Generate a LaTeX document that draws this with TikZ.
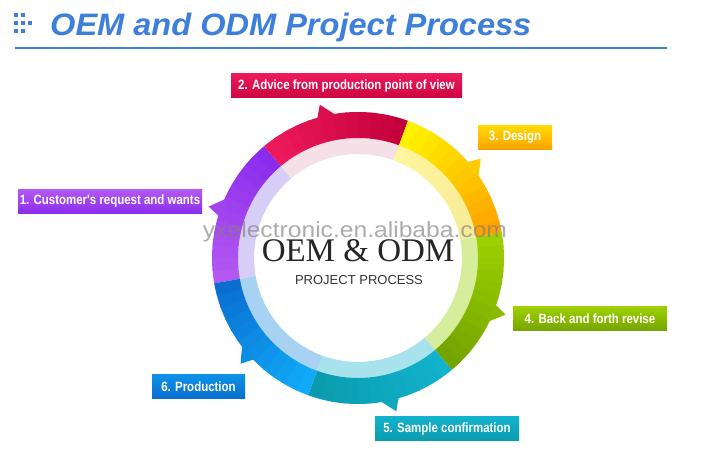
\documentclass[tikz,border=0pt]{standalone}
\usepackage{fontspec}
\setmainfont{Liberation Sans}
\newfontfamily\lblfont[FakeStretch=0.85]{Liberation Sans}
\newfontfamily\titlefont[FakeStretch=1.05]{Liberation Sans}
\newfontfamily\wmfont[FakeStretch=1.12]{Liberation Sans}
\newfontfamily\oemfont{Liberation Serif}
\definecolor{titleblue}{HTML}{3D7FDB}
\definecolor{purA}{HTML}{B458F2}
\definecolor{purB}{HTML}{8A2CEC}
\definecolor{redA}{HTML}{EC1A5C}
\definecolor{redB}{HTML}{C4003A}
\definecolor{yelA}{HTML}{FFF200}
\definecolor{yelB}{HTML}{FFA200}
\definecolor{grnA}{HTML}{9CD000}
\definecolor{grnB}{HTML}{74A400}
\definecolor{tealA}{HTML}{12B2CC}
\definecolor{tealB}{HTML}{0A9CAE}
\definecolor{bluA}{HTML}{10AAF8}
\definecolor{bluB}{HTML}{0A6ED0}
\definecolor{purP}{HTML}{D6CEF6}
\definecolor{redP}{HTML}{F6E0E8}
\definecolor{yelP}{HTML}{FFF59C}
\definecolor{yelQ}{HTML}{F6EC98}
\definecolor{grnP}{HTML}{D6EE9C}
\definecolor{tealP}{HTML}{A8E2EC}
\definecolor{bluP}{HTML}{A8D2F4}
\newcommand\ringseg[6]{%
  \foreach \i in {0,...,11}{%
    \pgfmathsetmacro\sa{#1+(#2-#1)*\i/12}%
    \pgfmathsetmacro\ov{\i<11 ? 0.5 : 0}%
    \pgfmathsetmacro\ea{#1+(#2-#1)*(\i+1)/12-\ov}%
    \pgfmathtruncatemacro\p{100*\i/11}%
    \colorlet{palec}{#6!\p!#5}%
    \colorlet{segc}{#4!\p!#3}%
    \fill[palec] (\sa:121) arc[start angle=\sa,end angle=\ea,radius=121] -- (\ea:104) arc[start angle=\ea,end angle=\sa,radius=104] -- cycle;
    \fill[segc] (\sa:146) arc[start angle=\sa,end angle=\ea,radius=146] -- (\ea:120) arc[start angle=\ea,end angle=\sa,radius=120] -- cycle;
  }%
}
\newcommand\ringtab[2]{%
  \fill[#2] (#1-5.5:144) -- (#1:158) -- (#1+2.5:144) -- cycle;
}
\tikzset{
  lbl/.style={minimum height=24pt, inner sep=0pt, text=white,
    font=\lblfont\fontsize{13.5}{14}\selectfont\bfseries},
  dotsq/.style={fill=titleblue}
}
\begin{document}
\begin{tikzpicture}[x=1pt,y=1pt]
\useasboundingbox (0,0) rectangle (711,470);
\fill[white] (0,0) rectangle (711,470);
% title
\foreach \yy in {15,23,31}{
  \fill[dotsq] (14,470-\yy-2) rectangle ++(4,4);
  \fill[dotsq] (21,470-\yy-2) rectangle ++(4,4);
}
\fill[dotsq] (28,470-23-2) rectangle ++(3.5,4);
\node[anchor=base west, inner sep=0pt, text=titleblue,
  font=\titlefont\fontsize{31}{31}\selectfont\bfseries\itshape] (title) at (50,470-36) {OEM and ODM Project Process};
\coordinate (ruleL) at (15,470-48);
\coordinate (ruleR) at (667,470-48);
\draw[titleblue, line width=2pt] (ruleL) -- (ruleR);
% ring
\begin{scope}[shift={(358,212)}]
  \ringseg{190}{130}{purA}{purB}{purP}{purP}
  \ringseg{130}{70}{redA}{redB}{redP}{redP}
  \ringseg{70}{10}{yelA}{yelB}{yelP}{yelQ}
  \ringseg{10}{-50}{grnA}{grnB}{grnP}{grnP}
  \ringseg{-50}{-110}{tealA}{tealB}{tealP}{tealP}
  \ringseg{-110}{-170}{bluA}{bluB}{bluP}{bluP}
  \ringtab{161}{purB!45!purA}
  \ringtab{104}{redB!45!redA}
  \ringtab{39}{yelB!50!yelA}
  \ringtab{-21}{grnB!50!grnA}
  \ringtab{-76}{tealB!50!tealA}
  \ringtab{-138}{bluB!50!bluA}
\end{scope}
% centre texts
\node[font=\wmfont\fontsize{22}{22}\selectfont, text=gray, opacity=0.65] (wm) at (355,470-232) {yxelectronic.en.alibaba.com};
\node[font=\oemfont\fontsize{33}{33}\selectfont, text=black!85] (oem) at (358,470-251) {OEM \& ODM};
\node[font=\fontsize{13}{13}\selectfont, text=black!80] (pp) at (359,470-280) {PROJECT PROCESS};
% labels
\node[lbl, minimum width=184pt, top color=purA, bottom color=purB] (l1) at (110,470-201.5) {1. Customer's request and wants};
\node[lbl, minimum width=231pt, top color=redA, bottom color=redB!80!redA] (l2) at (346.5,470-86) {2. Advice from production point of view};
\node[lbl, minimum width=74pt, top color=yelA!70!yelB, bottom color=yelB] (l3) at (515,470-137.5) {3. Design};
\node[lbl, minimum width=154pt, top color=grnA, bottom color=grnB] (l4) at (590,470-319) {4. Back and forth revise};
\node[lbl, minimum width=144pt, top color=tealA, bottom color=tealB] (l5) at (447,470-429) {5. Sample confirmation};
\node[lbl, minimum width=93pt, top color=bluA!60!bluB, bottom color=bluB] (l6) at (198.5,470-386.5) {6. Production};
\end{tikzpicture}
\end{document}
